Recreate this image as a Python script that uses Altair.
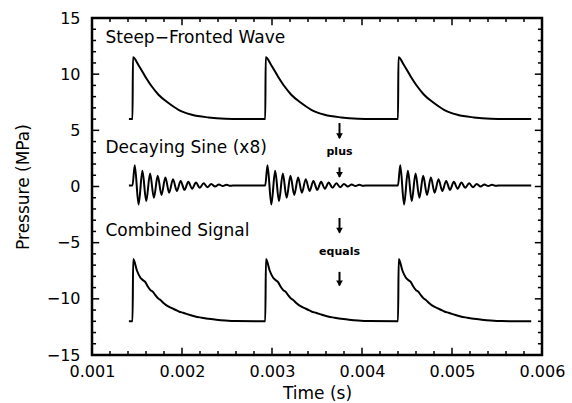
import altair as alt
import pandas as pd

# ---- data ----
onsets = [0.00145, 0.002925, 0.0044]
t_start = 0.00141
t_end = 0.00588

# Steep-fronted wave: one pulse (offset from onset, value)
wave_base = 6.0
wave_dt = [0.000005, 0.000067, 0.000141, 0.000215, 0.000289, 0.0004, 0.000511, 0.00066, 0.000844, 0.00103, 0.0012]
wave_v = [11.5, 10.8, 9.8, 8.9, 8.17, 7.43, 6.83, 6.39, 6.15, 6.03, 6.0]

# Decaying sine (x8): one pulse
sine_base = 0.1
sine_dt = [0.000025, 0.0000675, 0.00011, 0.0001525, 0.000195, 0.0002375, 0.00028, 0.0003225,
           0.000365, 0.0004075, 0.00045, 0.0004925, 0.000535, 0.0005775, 0.00062, 0.0006625,
           0.000705, 0.0007475, 0.00079, 0.0008325, 0.000875, 0.0009175, 0.00096, 0.0010025,
           0.001045, 0.0010875, 0.00114]
sine_v = [1.9, -1.6, 1.4, -1.3, 1.15, -1.0, 0.95, -0.75, 0.8, -0.55, 0.65, -0.4, 0.5, -0.3,
          0.42, -0.2, 0.35, -0.12, 0.28, -0.06, 0.22, 0.0, 0.18, 0.04, 0.15, 0.06, 0.1]

# Combined signal: one pulse
comb_base = -12.0
comb_dt = [0.000008, 0.00005, 0.000086, 0.00011, 0.000141, 0.00017, 0.000197, 0.00023, 0.000252,
           0.000289, 0.00031, 0.000341, 0.000397, 0.00043, 0.000474, 0.00052, 0.000563, 0.00063,
           0.000697, 0.00077, 0.000841, 0.00093, 0.00103, 0.00115]
comb_v = [-6.46, -7.5, -8.1, -8.3, -8.5, -8.9, -9.2, -9.4, -9.65, -10.0, -10.1, -10.35, -10.68,
          -10.8, -10.97, -11.15, -11.24, -11.42, -11.57, -11.68, -11.78, -11.86, -11.93, -11.98]

labels = ["Steep−Fronted Wave", "Decaying Sine (x8)", "Combined Signal"]
label_t = [0.00115, 0.00115, 0.00115]
label_v = [13.2, 3.4, -4.0]

arrow_t = 0.00375
arrow_top = [5.65, 1.7, -2.8, -7.6]
arrow_bottom = [4.3, 0.85, -4.1, -8.8]
word_text = ["plus", "equals"]
word_v = [3.1, -5.8]

x_major = [0.001, 0.002, 0.003, 0.004, 0.005, 0.006]
x_minor = [0.0012, 0.0014, 0.0016, 0.0018, 0.0022, 0.0024, 0.0026, 0.0028,
           0.0032, 0.0034, 0.0036, 0.0038, 0.0042, 0.0044, 0.0046, 0.0048,
           0.0052, 0.0054, 0.0056, 0.0058]
y_major = [-15, -10, -5, 0, 5, 10, 15]
y_minor = [-14, -13, -12, -11, -9, -8, -7, -6, -4, -3, -2, -1, 1, 2, 3, 4, 6, 7, 8, 9, 11, 12, 13, 14]

# ---- build tables ----
def build(name, dt, v, base):
    rows = [(t_start, base)]
    for o in onsets:
        rows.append((o, base))
        for d, val in zip(dt, v):
            rows.append((o + d, val))
    rows.append((t_end, base))
    return pd.DataFrame({"t": [r[0] for r in rows], "v": [r[1] for r in rows],
                         "i": list(range(len(rows))), "s": name})

wave = build("wave", wave_dt, wave_v, wave_base)
sine = build("sine", sine_dt, sine_v, sine_base)
comb = build("comb", comb_dt, comb_v, comb_base)

XMIN, XMAX, YMIN, YMAX = 0.001, 0.006, -15, 15
X_MAJ_LEN, X_MIN_LEN = 0.00008, 0.000045   # y-axis tick lengths in x units
Y_MAJ_LEN, Y_MIN_LEN = 0.65, 0.36           # x-axis tick lengths in y units

tick_rows = []
for xv in x_major + x_minor:
    L = Y_MAJ_LEN if xv in x_major else Y_MIN_LEN
    tick_rows.append({"t": xv, "t2": xv, "v": YMIN, "v2": YMIN + L})
    tick_rows.append({"t": xv, "t2": xv, "v": YMAX, "v2": YMAX - L})
for yv in y_major + y_minor:
    L = X_MAJ_LEN if yv in y_major else X_MIN_LEN
    tick_rows.append({"t": XMIN, "t2": XMIN + L, "v": yv, "v2": yv})
    tick_rows.append({"t": XMAX, "t2": XMAX - L, "v": yv, "v2": yv})
ticks = pd.DataFrame(tick_rows)

FONT = "DejaVu Sans"
xs = alt.Scale(domain=[XMIN, XMAX], nice=False, zero=False)
ys = alt.Scale(domain=[YMIN, YMAX], nice=False, zero=False)

x_axis = alt.Axis(values=x_major, format=".3f", ticks=False, domain=False, grid=False,
                  labelFontSize=16, labelFont=FONT, labelColor="black", labelPadding=8,
                  title="Time (s)", titleFont=FONT, titleFontSize=17, titleFontWeight="normal",
                  titleColor="black", titlePadding=6, labelFlush=False)
y_axis = alt.Axis(values=y_major, ticks=False, domain=False, grid=False,
                  labelFontSize=16, labelFont=FONT, labelColor="black", labelPadding=12,
                  title="Pressure (MPa)", titleFont=FONT, titleFontSize=17,
                  titleFontWeight="normal", titleColor="black", titlePadding=14)

X = alt.X("t:Q", scale=xs, axis=x_axis)
Y = alt.Y("v:Q", scale=ys, axis=y_axis)

def line(df, interp):
    return alt.Chart(df).mark_line(color="black", strokeWidth=2, interpolate=interp).encode(
        x=X, y=Y, order="i:Q")

base_layer = alt.Chart(ticks).mark_rule(color="black", strokeWidth=1.5).encode(
    x=X, x2="t2:Q", y=Y, y2="v2:Q")

lab_df = pd.DataFrame({"t": label_t, "v": label_v, "label": labels})
text_layer = alt.Chart(lab_df).mark_text(align="left", baseline="middle", font=FONT,
                                         fontSize=17, color="black").encode(
    x=X, y=Y, text="label:N")

arr_df = pd.DataFrame({"t": [arrow_t] * 4, "v": arrow_top, "bot": arrow_bottom})
arrow_shaft = alt.Chart(arr_df).mark_rule(color="black", strokeWidth=2).encode(
    x=X, y=Y, y2="bot:Q")
arr_head_df = pd.DataFrame({"t": [arrow_t] * 4, "v": arrow_bottom})
arrow_head = alt.Chart(arr_head_df).mark_point(shape="triangle-down", filled=True, color="black",
                                               size=45, opacity=1, yOffset=-2).encode(x=X, y=Y)

word_df = pd.DataFrame({"t": [arrow_t] * 2, "v": word_v, "w": word_text})
word_layer = alt.Chart(word_df).mark_text(align="center", baseline="middle", font=FONT,
                                          fontSize=11, fontWeight="bold", color="black").encode(
    x=X, y=Y, text="w:N")

chart = alt.layer(
    base_layer,
    line(wave, "monotone"),
    line(sine, "monotone"),
    line(comb, "monotone"),
    text_layer, arrow_shaft, arrow_head, word_layer,
).properties(
    width=450, height=337,
    padding={"left": 92, "top": 18, "right": 30, "bottom": 48},
    autosize=alt.AutoSizeParams(type="none"),
    background="white",
).configure_view(stroke="black", strokeWidth=2.5)

chart.save("out.html", embed_options={"renderer": "svg", "actions": False})
